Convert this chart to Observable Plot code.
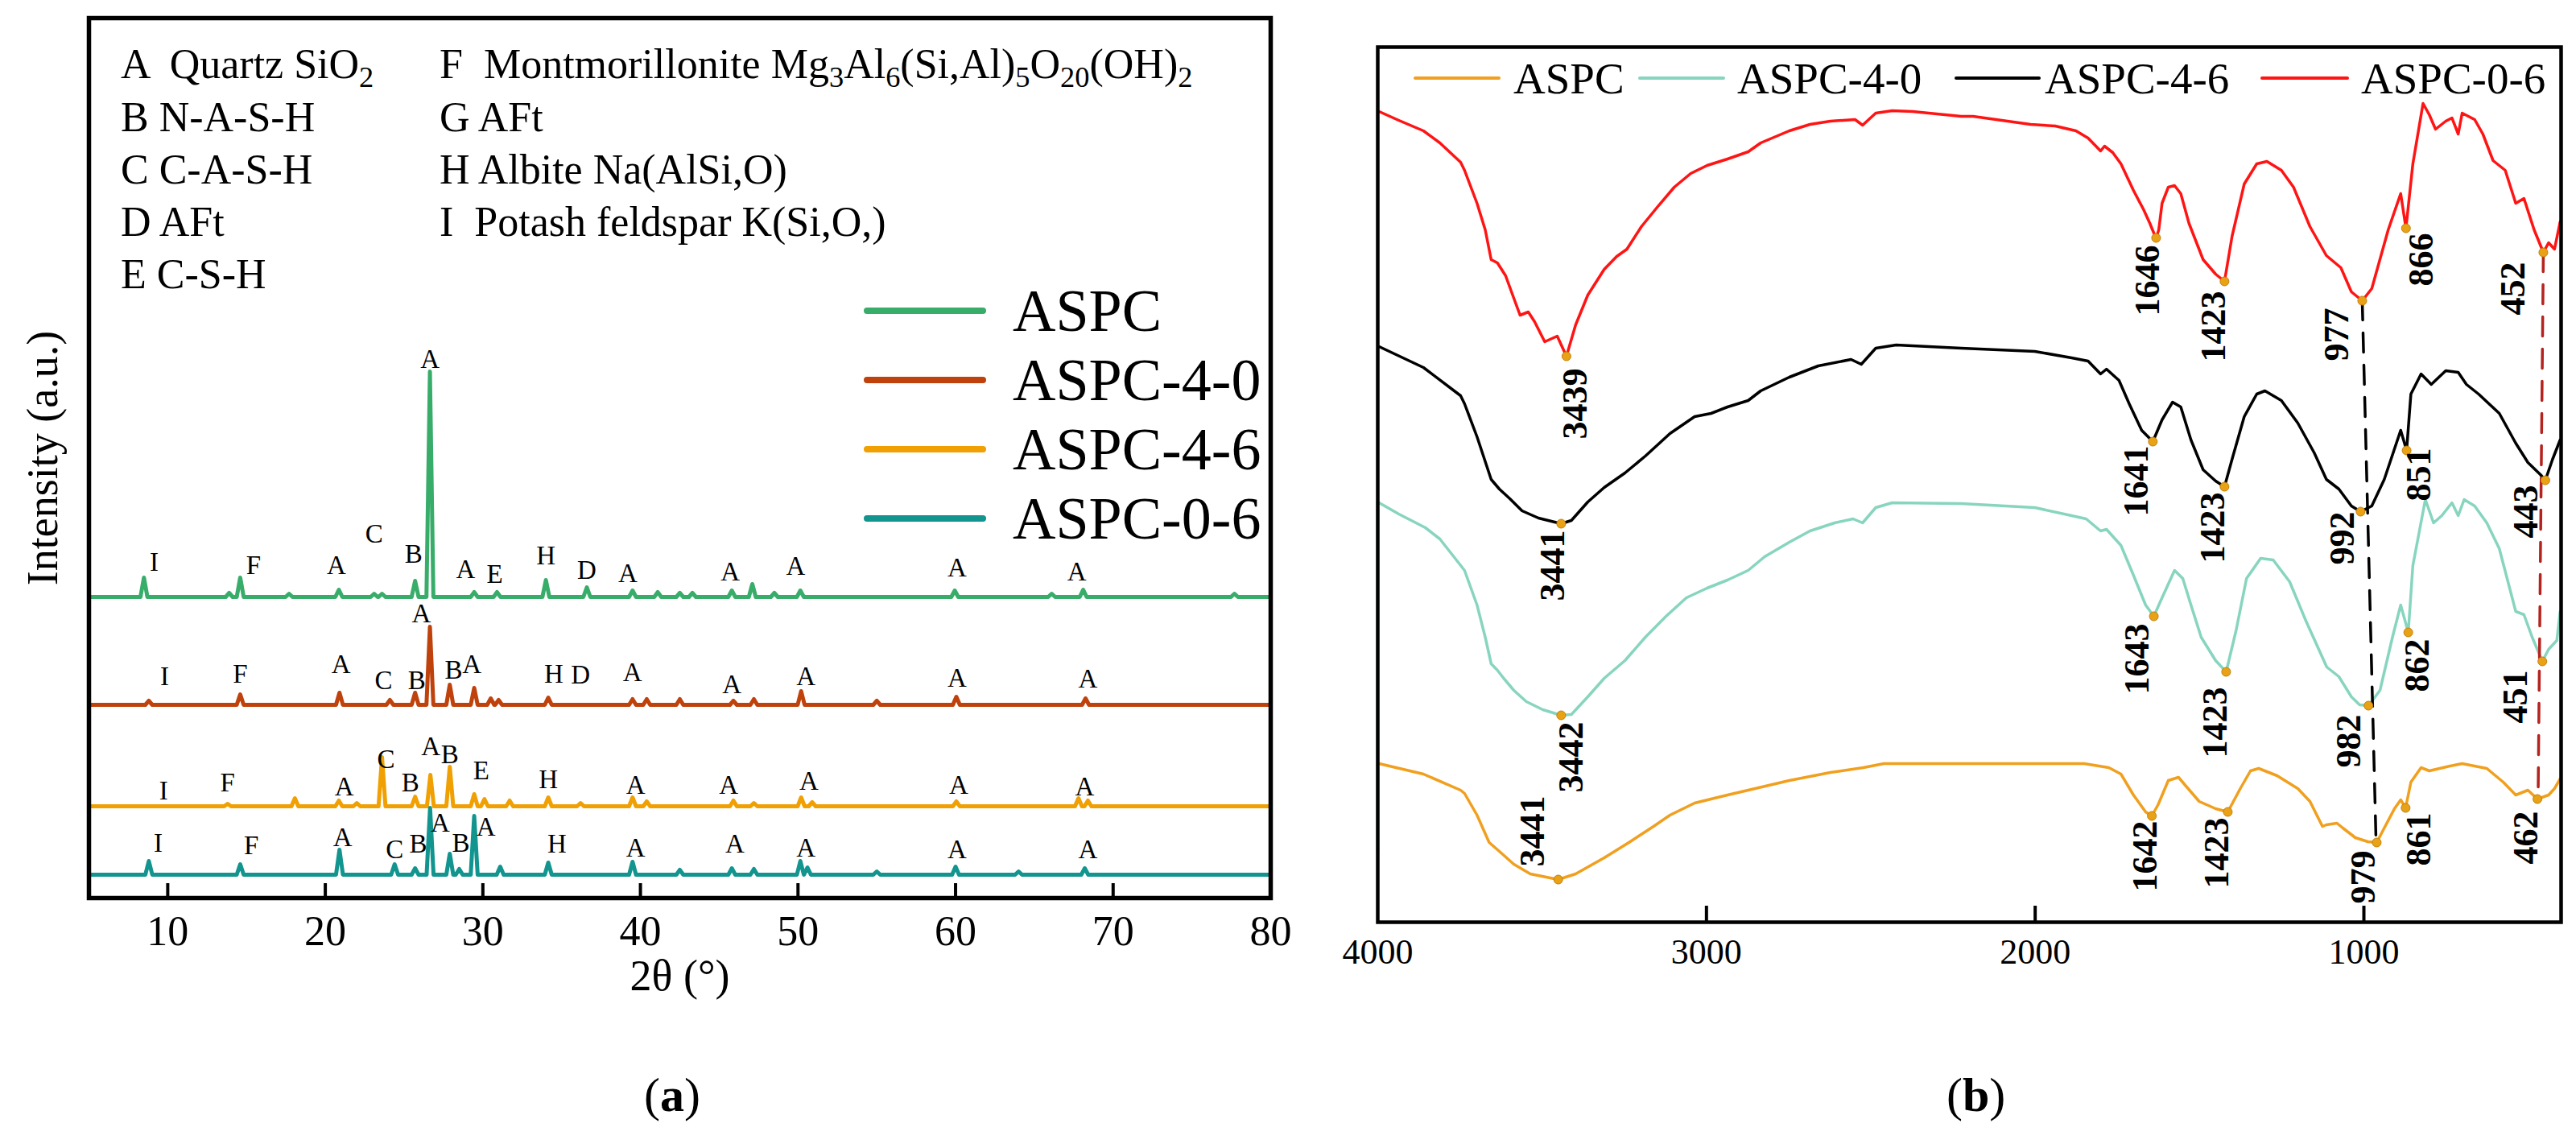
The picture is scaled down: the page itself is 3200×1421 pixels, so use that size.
<!DOCTYPE html>
<html><head><meta charset="utf-8">
<script src="https://cdn.jsdelivr.net/npm/d3@7"></script>
<script src="https://cdn.jsdelivr.net/npm/@observablehq/plot@0.6"></script>
<style>
body{margin:0;background:#fff;}
#root{position:relative;width:3200px;height:1421px;font-family:"Liberation Serif","Times New Roman",serif;color:#000;overflow:hidden;background:#fff;}
.abs{position:absolute;white-space:pre;line-height:1;}
sub{font-size:0.7em;vertical-align:-0.3em;line-height:0;}
svg text{font-family:"Liberation Serif","Times New Roman",serif;}
</style></head><body><div id="root"></div>
<script>
// ---------- (a) XRD ----------
const xrdSeries = ["ASPC", "ASPC-4-0", "ASPC-4-6", "ASPC-0-6"];
const xrdColors = ["#38ad6a", "#bf420c", "#f0a002", "#12958f"];
const xrdBaseline = [374, 240, 114, 29];
const xrdTicks = [10, 20, 30, 40, 50, 60, 70, 80];
// peaks: [2θ, height above baseline]
const peaksASPC = [[8.49,24],[13.9,5],[14.6,24],[17.7,4],[20.86,9],[23.1,4],[23.6,4],[25.7,20],[26.64,280],[29.45,6],[30.9,6],[34.0,21],[36.6,12],[39.5,8],[41.1,6],[42.5,5],[43.3,5],[45.8,8],[47.1,16],[48.5,5],[50.15,8],[59.95,8],[66.1,4],[68.1,9],[77.7,4]];
const peaksASPC40 = [[8.8,5],[14.6,13],[20.9,15],[24.1,6],[25.7,15],[26.64,97],[27.9,25],[29.45,21],[30.5,8],[31.0,6],[34.15,9],[39.5,7],[40.4,7],[42.5,7],[45.9,5],[47.2,7],[50.2,17],[55,5],[60.05,10],[68.25,8]];
const peaksASPC46 = [[13.8,3],[18.07,10],[20.86,7],[22.0,4],[23.6,61],[25.7,12],[26.67,39],[27.9,49],[29.45,15],[30.1,9],[31.7,7],[34.15,11],[36.2,4],[39.5,11],[40.4,6],[45.9,7],[47.2,4],[50.2,11],[50.9,5],[60.05,6],[67.8,10],[68.4,7]];
const peaksASPC06 = [[8.8,17],[14.6,13],[20.9,31],[24.4,13],[25.7,8],[26.65,83],[27.9,26],[28.5,7],[29.45,73],[31.1,10],[34.15,15],[39.5,16],[42.5,6],[45.8,8],[47.2,7],[50.15,17],[50.6,9],[55,4],[60.0,10],[64,4],[68.2,8]];
// phase letters: [2θ, intensity, letter]
const labelsASPC = [[9.14,417,"I"],[15.45,413,"F"],[20.7,413,"A"],[23.1,452,"C"],[25.6,427,"B"],[26.64,669,"A"],[28.9,408,"A"],[30.75,402,"E"],[34.0,425,"H"],[36.6,407,"D"],[39.2,403,"A"],[45.7,405,"A"],[49.85,412,"A"],[60.1,410,"A"],[67.7,405,"A"]];
const labelsASPC40 = [[9.8,275,"I"],[14.6,278,"F"],[21.0,290,"A"],[23.7,270,"C"],[25.8,270,"B"],[26.1,353,"A"],[28.15,283,"B"],[29.3,290,"A"],[34.5,278,"H"],[36.2,277,"D"],[39.5,280,"A"],[45.8,265,"A"],[50.5,275,"A"],[60.1,273,"A"],[68.4,272,"A"]];
const labelsASPC46 = [[9.74,133,"I"],[13.8,143,"F"],[21.2,138,"A"],[23.85,172,"C"],[25.4,143,"B"],[26.7,188,"A"],[27.9,178,"B"],[29.9,158,"E"],[34.15,147,"H"],[39.7,140,"A"],[45.6,140,"A"],[50.7,145,"A"],[60.2,140,"A"],[68.2,138,"A"]];
const labelsASPC06 = [[9.4,68,"I"],[15.3,65,"F"],[21.1,75,"A"],[24.4,60,"C"],[25.9,67,"B"],[27.3,93,"A"],[28.6,68,"B"],[30.2,88,"A"],[34.7,67,"H"],[39.7,62,"A"],[46.0,67,"A"],[50.5,62,"A"],[60.1,60,"A"],[68.4,60,"A"]];
const phaseLegendCol1 = ["A  Quartz SiO<sub>2</sub>", "B N-A-S-H", "C C-A-S-H", "D AFt", "E C-S-H"];
const phaseLegendCol2 = ["F  Montmorillonite Mg<sub>3</sub>Al<sub>6</sub>(Si,Al)<sub>5</sub>O<sub>20</sub>(OH)<sub>2</sub>", "G AFt", "H Albite Na(AlSi,O)", "I  Potash feldspar K(Si,O,)"];

// ---------- (b) FTIR ----------
const ftirSeries = ["ASPC", "ASPC-4-0", "ASPC-4-6", "ASPC-0-6"];
const ftirColors = ["#f0a01e", "#88d5bf", "#000000", "#ff1414"];
const ftirTicks = [4000, 3000, 2000, 1000];
const ftirASPC = [[3996,197],[3861,184],[3748,164],[3736,160],[3698,133],[3661,99],[3630,88],[3586,72],[3536,60],[3451,53],[3398,60],[3311,80],[3236,99],[3161,119],[3111,133],[3036,148],[2936,158],[2873,164],[2748,176],[2623,186],[2523,192],[2460,197],[2225,197],[2064,197],[1851,197],[1776,192],[1739,184],[1701,158],[1664,137],[1645,132],[1626,146],[1595,176],[1564,180],[1539,168],[1501,150],[1451,141],[1414,137],[1376,166],[1345,188],[1320,191],[1264,182],[1201,166],[1164,150],[1126,119],[1114,121],[1082,123],[1064,117],[1026,105],[988,100],[961,99],[938,117],[907,141],[888,152],[873,142],[857,174],[826,192],[801,188],[738,194],[701,197],[626,191],[576,174],[538,158],[501,164],[472,153],[438,158],[420,166],[403,178]];
const ftirASPC40 = [[4000,86],[4000,521],[3996,521],[3936,507],[3855,490],[3811,476],[3736,437],[3698,394],[3673,354],[3655,321],[3636,313],[3617,303],[3586,288],[3548,274],[3498,264],[3442,257],[3411,258],[3361,280],[3311,303],[3248,325],[3186,354],[3123,380],[3061,403],[2998,415],[2936,425],[2873,437],[2823,454],[2748,472],[2685,486],[2610,496],[2554,501],[2525,496],[2485,515],[2435,521],[2225,520],[2001,515],[1889,505],[1845,501],[1801,486],[1783,488],[1739,468],[1701,431],[1664,394],[1639,380],[1614,403],[1576,437],[1551,427],[1526,394],[1495,354],[1451,325],[1419,311],[1389,362],[1357,427],[1314,452],[1276,450],[1226,423],[1176,374],[1113,317],[1076,305],[1038,280],[1013,270],[986,269],[951,288],[913,354],[888,394],[865,360],[851,443],[813,525],[788,496],[763,505],[732,521],[713,505],[695,525],[663,517],[626,496],[588,464],[538,386],[513,382],[488,354],[457,324],[438,339],[413,350],[403,386]];
const ftirASPC46 = [[3996,715],[3861,689],[3748,654],[3736,644],[3698,603],[3655,550],[3630,538],[3598,526],[3561,511],[3511,502],[3442,495],[3411,499],[3361,522],[3311,540],[3248,558],[3186,579],[3111,607],[3036,628],[2986,632],[2936,640],[2873,648],[2835,660],[2748,677],[2660,691],[2560,699],[2529,693],[2485,713],[2423,717],[2225,713],[2001,709],[1889,701],[1839,697],[1801,681],[1783,687],[1745,673],[1714,644],[1676,611],[1642,597],[1614,624],[1582,646],[1557,640],[1526,599],[1489,562],[1451,548],[1424,541],[1401,575],[1364,628],[1326,656],[1301,660],[1251,648],[1201,620],[1151,583],[1114,550],[1076,538],[1038,517],[1010,510],[976,517],[938,550],[888,611],[870,586],[857,656],[826,681],[795,668],[751,685],[713,683],[688,668],[651,656],[588,632],[538,595],[501,571],[463,556],[448,549],[426,575],[403,599]];
const ftirASPC06 = [[3996,1007],[3936,996],[3861,983],[3811,968],[3748,944],[3736,934],[3698,893],[3673,860],[3655,823],[3636,819],[3611,803],[3586,775],[3567,754],[3542,758],[3523,746],[3492,721],[3454,728],[3426,703],[3398,742],[3361,779],[3311,811],[3273,827],[3242,836],[3198,864],[3148,889],[3098,913],[3048,930],[2998,940],[2936,948],[2873,957],[2835,968],[2748,983],[2685,991],[2623,995],[2548,997],[2525,990],[2485,1005],[2435,1008],[2373,1007],[2225,1001],[2189,1001],[2014,991],[1939,989],[1876,983],[1839,974],[1801,958],[1789,964],[1764,956],[1739,942],[1701,909],[1670,885],[1651,868],[1639,856],[1632,850],[1624,860],[1614,893],[1595,913],[1576,915],[1557,905],[1532,868],[1489,823],[1451,805],[1424,796],[1401,852],[1364,917],[1326,942],[1295,945],[1251,934],[1214,913],[1164,864],[1114,828],[1070,813],[1038,783],[1005,772],[976,787],[926,860],[888,905],[872,862],[851,942],[820,1017],[801,1003],[782,985],[751,995],[732,999],[713,979],[701,1005],[663,997],[638,979],[607,946],[570,934],[538,893],[513,899],[482,860],[454,832],[438,844],[420,836],[403,870]];
// marked band minima [wavenumber, value]
const bandsASPC = [[3451,53],[1645,132],[1414,137],[961,99],[873,142],[472,153]];
const bandsASPC40 = [[3442,257],[1639,380],[1419,311],[986,269],[865,360],[457,324]];
const bandsASPC46 = [[3442,495],[1642,597],[1424,541],[1010,510],[870,586],[448,549]];
const bandsASPC06 = [[3426,703],[1632,850],[1424,796],[1005,772],[872,862],[454,832]];
// band labels [wavenumber, value, text]
const bandLabelsASPC = [[3529,113,"3441"],[1664,82,"1642"],[1447,86,"1423"],[1001,56,"979"],[832,103,"861"],[507,105,"462"]];
const bandLabelsASPC40 = [[3411,205,"3442"],[1689,327,"1643"],[1451,248,"1423"],[1045,225,"982"],[838,319,"862"],[538,280,"451"]];
const bandLabelsASPC46 = [[3467,443,"3441"],[1692,548,"1641"],[1460,490,"1423"],[1064,477,"992"],[832,556,"851"],[507,510,"443"]];
const bandLabelsASPC06 = [[3398,644,"3439"],[1658,797,"1646"],[1457,740,"1423"],[1082,730,"977"],[826,823,"866"],[545,787,"452"]];
const guideBlack = [[1005,772],[963,100]];
const guideRed = [[454,832],[470,153]];

// ---------- build ----------
const root = document.getElementById("root");
const FONT = "Liberation Serif";

function pattern(base, peaks) {
  const pts = [[5, base]];
  for (const [p, h] of peaks) {
    pts.push([p - 0.22, base], [p, base + h], [p + 0.22, base]);
  }
  pts.push([80, base]);
  return pts;
}
const xrdPeaks = [peaksASPC, peaksASPC40, peaksASPC46, peaksASPC06];
const xrdLabels = [labelsASPC, labelsASPC40, labelsASPC46, labelsASPC06].flat();

const plotA = Plot.plot({
  width: 1640, height: 1300,
  marginLeft: 110, marginRight: 62, marginTop: 22, marginBottom: 185,
  style: {fontFamily: FONT, background: "transparent", color: "#000", overflow: "visible"},
  x: {domain: [5, 80]},
  y: {domain: [0, 1093], axis: null},
  marks: [
    ...xrdPeaks.map((pk, i) => Plot.line(pattern(xrdBaseline[i], pk), {x: d => d[0], y: d => d[1], stroke: xrdColors[i], strokeWidth: 5, strokeLinejoin: "round"})),
    Plot.text(xrdLabels, {x: d => d[0], y: d => d[1], text: d => d[2], fontSize: 33, fontFamily: FONT, lineAnchor: "middle", fill: "#000"}),
    Plot.ruleX(xrdTicks.slice(0, -1), {x: d => d, y1: 0, y2: 18, stroke: "#000", strokeWidth: 4}),
    Plot.frame({stroke: "#000", strokeWidth: 5.5}),
    Plot.axisX({ticks: xrdTicks, tickSize: 0, tickPadding: 22, fontSize: 52, fontFamily: FONT, tickFormat: d => String(d), label: null}),
    Plot.text(["2θ (°)"], {frameAnchor: "bottom", text: d => d, dy: 97, fontSize: 54, fontFamily: FONT, textAnchor: "middle", lineAnchor: "middle"}),
    Plot.text(["Intensity (a.u.)"], {frameAnchor: "left", text: d => d, dx: -57, rotate: -90, fontSize: 54, fontFamily: FONT, textAnchor: "middle", lineAnchor: "middle"})
  ]
});
const boxA = document.createElement("div");
boxA.className = "abs"; boxA.style.left = "0px"; boxA.style.top = "0px";
boxA.appendChild(plotA);
root.appendChild(boxA);

const ftirData = [ftirASPC, ftirASPC40, ftirASPC46, ftirASPC06];
const bands = [bandsASPC, bandsASPC40, bandsASPC46, bandsASPC06].flat();
const bandLabels = [bandLabelsASPC, bandLabelsASPC40, bandLabelsASPC46, bandLabelsASPC06].flat();

const plotB = Plot.plot({
  width: 1560, height: 1300,
  marginLeft: 71, marginRight: 19, marginTop: 58, marginBottom: 155,
  style: {fontFamily: FONT, background: "transparent", color: "#000", overflow: "visible"},
  x: {domain: [4000, 400]},
  y: {domain: [0, 1087], axis: null},
  marks: [
    ...ftirData.map((d, i) => Plot.line(d, {x: p => p[0], y: p => p[1], stroke: ftirColors[i], strokeWidth: 3.5, strokeLinejoin: "round"})),
    Plot.line(guideBlack, {x: d => d[0], y: d => d[1], stroke: "#000", strokeWidth: 3.5, strokeDasharray: "24,16"}),
    Plot.line(guideRed, {x: d => d[0], y: d => d[1], stroke: "#b5231f", strokeWidth: 3.5, strokeDasharray: "24,16"}),
    Plot.dot(bands, {x: d => d[0], y: d => d[1], r: 5.5, fill: "#e9a116", stroke: "#c07f0a", strokeWidth: 1}),
    Plot.text(bandLabels, {x: d => d[0], y: d => d[1], text: d => d[2], rotate: -90, fontSize: 44, fontFamily: FONT, fontWeight: "bold", textAnchor: "middle", lineAnchor: "middle", fill: "#000"}),
    Plot.ruleX(ftirTicks.slice(1), {x: d => d, y1: 0, y2: 20, stroke: "#000", strokeWidth: 4}),
    Plot.frame({stroke: "#000", strokeWidth: 4.5}),
    Plot.axisX({ticks: ftirTicks, tickSize: 0, tickPadding: 20, fontSize: 44, fontFamily: FONT, tickFormat: d => String(d), label: null})
  ]
});
const boxB = document.createElement("div");
boxB.className = "abs"; boxB.style.left = "1640px"; boxB.style.top = "0px";
boxB.appendChild(plotB);
root.appendChild(boxB);

// ---------- HTML legends and captions ----------
function addText(html, left, cy, fs, extra) {
  const d = document.createElement("div");
  d.className = "abs";
  d.style.left = left + "px";
  d.style.top = (cy - fs * 0.5) + "px";
  d.style.fontSize = fs + "px";
  if (extra) Object.assign(d.style, extra);
  d.innerHTML = html;
  root.appendChild(d);
  return d;
}
function addSwatch(x1, x2, cy, color, w) {
  const d = document.createElement("div");
  d.className = "abs";
  d.style.left = x1 + "px";
  d.style.top = (cy - w / 2) + "px";
  d.style.width = (x2 - x1) + "px";
  d.style.height = w + "px";
  d.style.background = color;
  d.style.borderRadius = (w / 2) + "px";
  root.appendChild(d);
}
const phaseRows = [80, 146, 211, 276, 341];
phaseLegendCol1.forEach((t, i) => addText(t, 150, phaseRows[i], 52));
phaseLegendCol2.forEach((t, i) => addText(t, 546, phaseRows[i], 52));

const legendRowsA = [386, 472, 558, 644];
xrdSeries.forEach((s, i) => {
  addSwatch(1073, 1225, legendRowsA[i], xrdColors[i], 8);
  addText(s, 1258, legendRowsA[i], 74);
});

const legendB = [[1756, 1864, 1880], [2035, 2143, 2158], [2428, 2535, 2540], [2808, 2918, 2933]];
ftirSeries.forEach((s, i) => {
  const [a, b, t] = legendB[i];
  addSwatch(a, b, 97, ftirColors[i], 4);
  addText(s, t, 97, 55);
});

addText("(<b>a</b>)", 800, 1360, 60);
addText("(<b>b</b>)", 2418, 1360, 60);
</script></body></html>
